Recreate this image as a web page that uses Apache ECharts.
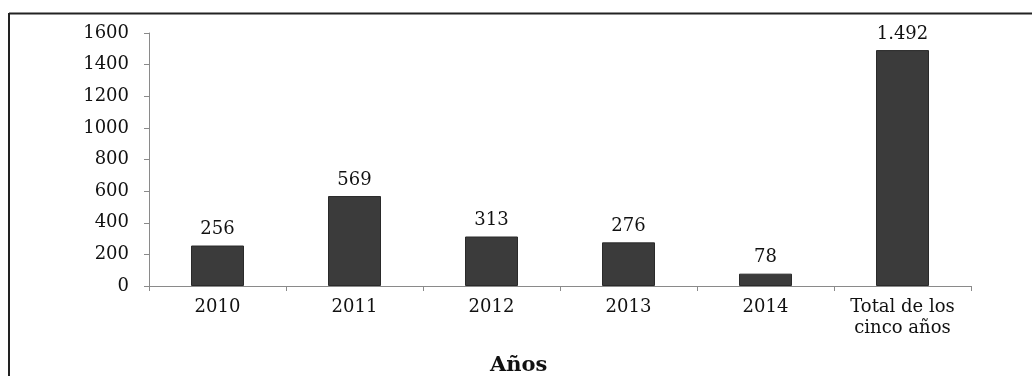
<!DOCTYPE html>
<html>
<head>
<meta charset="utf-8">
<script src="https://cdn.jsdelivr.net/npm/echarts@6/dist/echarts.min.js"></script>
<style>
html,body{margin:0;padding:0;background:#fff;}
#chart{width:1032px;height:376px;}
</style>
</head>
<body>
<div id="chart"></div>
<script>
const categories = ['2010', '2011', '2012', '2013', '2014', 'Total de los\ncinco años'];
const values = [256, 569, 313, 276, 78, 1492];
const yTicks = [0, 200, 400, 600, 800, 1000, 1200, 1400, 1600];
const axisTitle = 'Años';

const FONT = '"DejaVu Serif", "Liberation Serif", serif';
const chart = echarts.init(document.getElementById('chart'), null, {renderer: 'canvas'});
chart.setOption({
  backgroundColor: '#fff',
  animation: false,
  title: {
    text: axisTitle,
    left: 485,
    top: 350,
    textStyle: {fontFamily: FONT, fontSize: 21, fontWeight: 'bold', color: '#111'}
  },
  grid: {left: 149, right: 61, top: 33, bottom: 90, containLabel: false},
  xAxis: {
    type: 'category',
    data: categories,
    axisLine: {show: true, lineStyle: {color: '#8a8a8a', width: 1}},
    axisTick: {show: true, alignWithLabel: false, length: 5, lineStyle: {color: '#8a8a8a'}},
    axisLabel: {
      margin: 11, color: '#111', fontFamily: FONT, fontSize: 18, lineHeight: 21, interval: 0
    }
  },
  yAxis: {
    type: 'value',
    min: yTicks[0],
    max: yTicks[yTicks.length - 1],
    interval: 200,
    splitLine: {show: false},
    axisLine: {show: true, lineStyle: {color: '#8a8a8a', width: 1}},
    axisTick: {show: true, length: 5, lineStyle: {color: '#8a8a8a'}},
    axisLabel: {margin: 20, color: '#111', fontFamily: FONT, fontSize: 18, formatter: v => String(v)}
  },
  series: [{
    type: 'bar',
    data: values,
    barWidth: 53,
    itemStyle: {color: '#3b3b3b', borderColor: '#2a2a2a', borderWidth: 1},
    label: {
      show: true,
      position: 'top',
      distance: 7,
      color: '#111',
      fontFamily: FONT,
      fontSize: 18,
      formatter: p => String(p.value).replace(/\B(?=(\d{3})+(?!\d))/g, '.')
    }
  }],
  graphic: [
    {type: 'line', shape: {x1: 9, y1: 13.5, x2: 1032, y2: 13.5}, style: {stroke: '#222', lineWidth: 2}},
    {type: 'line', shape: {x1: 9, y1: 13, x2: 9, y2: 376}, style: {stroke: '#222', lineWidth: 2}}
  ]
});
</script>
</body>
</html>
